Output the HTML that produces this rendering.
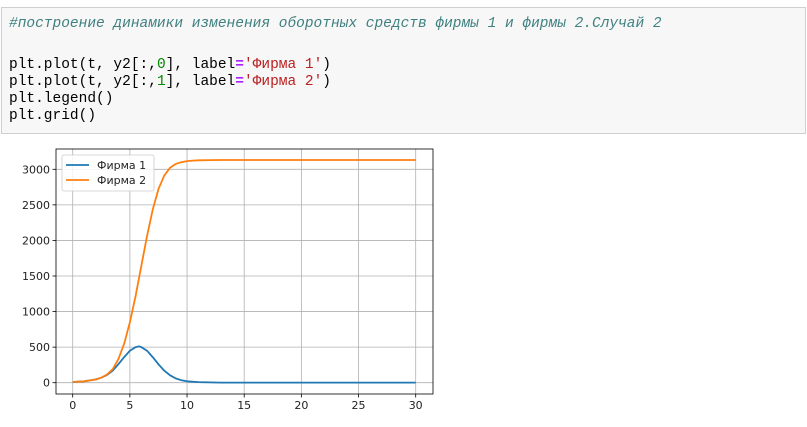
<!DOCTYPE html>
<html><head><meta charset="utf-8"><style>
body{margin:0;width:807px;height:427px;background:#fff;overflow:hidden;font-family:"Liberation Sans","DejaVu Sans",sans-serif}
.cell{position:absolute;left:1px;top:7px;width:803px;height:125px;background:#f7f7f7;border:1px solid #cfcfcf}
.code{position:absolute;left:7px;margin:0;font-family:"Liberation Mono",monospace;font-size:14.5px;line-height:17px;color:#000;white-space:pre}
.cm{color:#408080;font-style:italic}.s{color:#ba2121}.n{color:#080}.o{color:#a2f;font-weight:bold}
</style></head><body>
<div class="cell">
<pre class="code" style="top:8px"><span class="cm">#построение динамики изменения оборотных средств фирмы 1 и фирмы 2.Случай 2</span></pre>
<pre class="code" style="top:49px">plt.plot(t, y2[:,<span class="n">0</span>], label<span class="o">=</span><span class="s">'Фирма 1'</span>)
plt.plot(t, y2[:,<span class="n">1</span>], label<span class="o">=</span><span class="s">'Фирма 2'</span>)
plt.legend()
plt.grid()</pre>
</div>
<svg id="chart" width="807" height="427" style="position:absolute;left:0;top:0" font-family="DejaVu Sans, Liberation Sans, sans-serif" font-size="11"></svg>
<script>
const tVals=[0,1,2,2.5,3,3.5,4,4.5,5,5.5,5.8,6,6.5,7,7.5,8,8.5,9,9.5,10,11,12,13,15,20,25,30];
const firm1=[10,20,45,70,110,170,260,360,450,500,510,500,450,360,260,170,105,60,35,20,8,4,2,1,1,1,1];
const tVals2=[0,1,2,2.5,3,3.5,4,4.5,5,5.5,6,6.5,7,7.5,8,8.5,9,9.5,10,10.5,11,12,13,20,30];
const firm2=[10,20,45,70,115,190,330,550,850,1220,1640,2060,2430,2720,2910,3020,3075,3100,3115,3122,3127,3130,3131,3131,3131];
const xTicks=[0,5,10,15,20,25,30];
const yTicks=[0,500,1000,1500,2000,2500,3000];
const L=56,R=433,T=149,B=394;
const X=v=>72.7+v*(415.7-72.7)/30;
const Y=v=>382.7-v*(382.7-169.3)/3000;
const svg=document.getElementById('chart');
const NS='http://www.w3.org/2000/svg';
function mk(tag,attrs){const e=document.createElementNS(NS,tag);for(const k in attrs)e.setAttribute(k,attrs[k]);svg.appendChild(e);return e;}
xTicks.forEach(v=>{
 const g=mk('line',{x1:X(v),x2:X(v),y1:T,y2:B,stroke:'#b0b0b0','stroke-width':0.8});
 
 
 mk('line',{x1:X(v),x2:X(v),y1:B,y2:B+3.5,stroke:'#000','stroke-width':0.8});
 const t=mk('text',{x:X(v),y:B+15,'text-anchor':'middle',fill:'#222'});t.textContent=v;
 
 
});
yTicks.forEach(v=>{
 const g=mk('line',{x1:L,x2:R,y1:Y(v),y2:Y(v),stroke:'#b0b0b0','stroke-width':0.8});
 
 
 mk('line',{x1:L-3.5,x2:L,y1:Y(v),y2:Y(v),stroke:'#000','stroke-width':0.8});
 const t=mk('text',{x:L-6,y:Y(v)+4,'text-anchor':'end',fill:'#222'});t.textContent=v;
 
 
});
function line(xs,ys,c,name){
 const d=xs.map((x,i)=>(i?'L':'M')+X(x).toFixed(1)+','+Y(ys[i]).toFixed(1)).join('');
 const p=mk('path',{d:d,fill:'none',stroke:c,'stroke-width':1.8,'stroke-linejoin':'round'});
 
 
}
line(tVals,firm1,'#1f77b4','series-firm-1');
line(tVals2,firm2,'#ff7f0e','series-firm-2');
const fr=mk('rect',{x:L,y:T,width:R-L,height:B-T,fill:'none',stroke:'#000','stroke-width':0.8});


const lg=mk('rect',{x:62,y:155,width:92,height:36,rx:2,fill:'#fff','fill-opacity':0.85,stroke:'#ccc','stroke-width':0.8});


[['Фирма 1','#1f77b4'],['Фирма 2','#ff7f0e']].forEach((e,i)=>{
 const y=165+i*15;
 mk('line',{x1:66,x2:89,y1:y,y2:y,stroke:e[1],'stroke-width':1.8});
 const t=mk('text',{x:97,y:y+4,fill:'#222'});t.textContent=e[0];
 
 
});
</script>
</body></html>
